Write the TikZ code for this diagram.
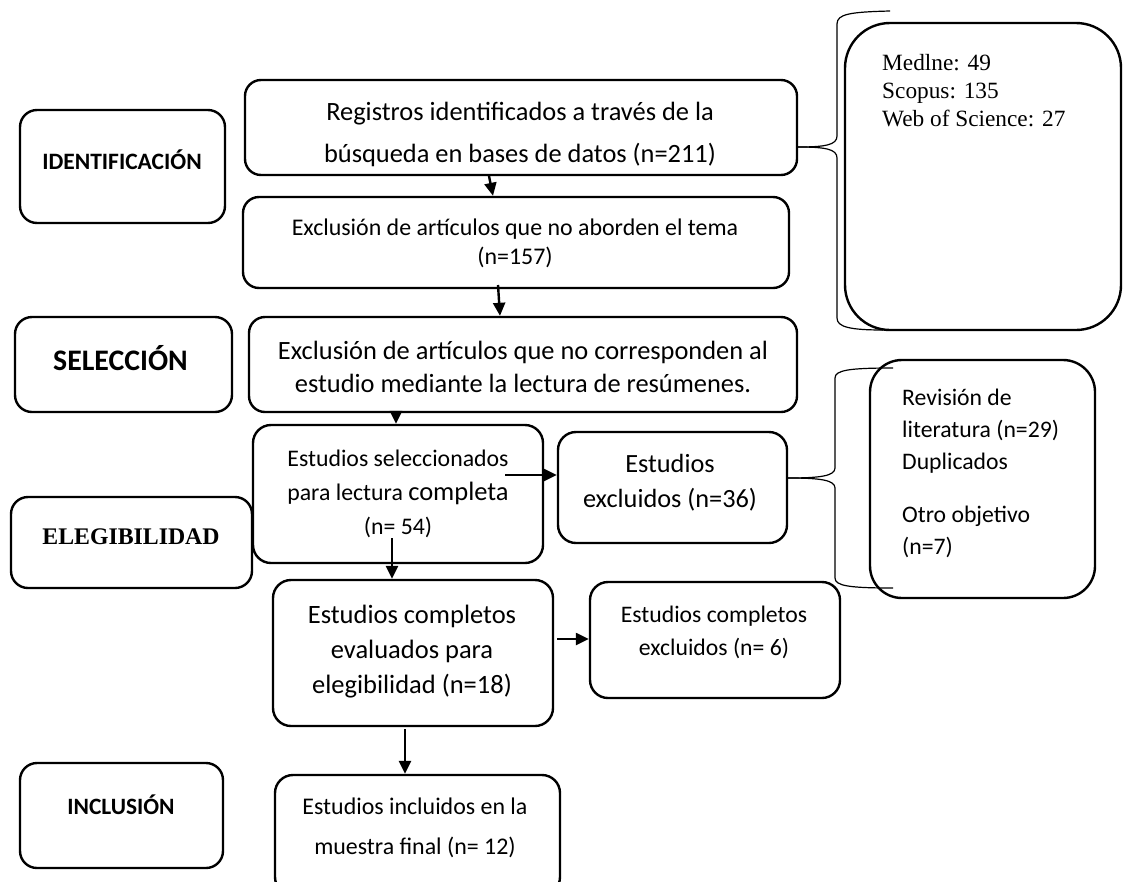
\documentclass[tikz,border=0pt]{standalone}
\usepackage{fontspec}
\setmainfont{Carlito}
\newfontfamily\tnr{Liberation Serif}
\usetikzlibrary{arrows.meta,fit,calc}
\newcommand{\fsz}[2]{\fontsize{#1}{#2}\selectfont}
\begin{document}
\begin{tikzpicture}[x=1pt,y=-1pt,
  box/.style={draw, line width=2.4pt, rounded corners=16pt, inner sep=0pt},
  txt/.style={inner sep=0pt, align=center},
  ltxt/.style={inner sep=0pt, align=left, anchor=west},
  arr/.style={line width=2.4pt, -{Triangle[length=13pt,width=12pt]}},
  brace/.style={line width=1.2pt}]
\useasboundingbox (0,0) rectangle (1123,881);
\clip (0,0) rectangle (1123,881);

% stage labels
\node[box, rounded corners=17pt, fit={(20,110)(225,223)}] (id) {};
\node[txt, font=\fsz{23.5}{28}\bfseries] (idt) at (122,160) {IDENTIFICACIÓN};
\node[box, rounded corners=17pt, fit={(15,317)(232,412)}] (sel) {};
\node[txt, font=\fsz{29.8}{34}\bfseries] (selt) at (120.5,358) {SELECCIÓN};
\node[box, rounded corners=17pt, fit={(11,497)(252,588)}] (ele) {};
\node[txt, font=\fsz{23.8}{28}\tnr\bfseries] (elet) at (131,537) {ELEGIBILIDAD};
\node[box, rounded corners=17pt, fit={(20,763)(223,868)}] (inc) {};
\node[txt, font=\fsz{23.4}{28}\bfseries] (inct) at (121,805) {INCLUSIÓN};

% main flow
\node[box, fit={(245,80)(797,175)}] (b1) {};
\node[txt, font=\fsz{26.4}{42}] (b1t) at (520,134) {Registros identificados a través de la\\búsqueda en bases de datos (n=211)};
\node[box, fit={(243,197)(789,288)}] (b2) {};
\node[txt, font=\fsz{23.9}{29}] (b2t) at (515,243) {Exclusión de artículos que no aborden el tema\\(n=157)};
\node[box, fit={(249,317)(797,412)}] (b3) {};
\node[txt, font=\fsz{26.4}{33}] (b3t) at (523,367) {Exclusión de artículos que no corresponden al\\estudio mediante la lectura de resúmenes.};
\node[box, rounded corners=18pt, fit={(253,425)(543,563)}] (b4) {};
\node[txt, font=\fsz{23.8}{34}] (b4t) at (398,494) {Estudios seleccionados\\para lectura {\fsz{26.5}{34}completa}\\(n= 54)};
\node[box, rounded corners=18pt, fit={(558,432)(787,543)}] (b5) {};
\node[txt, font=\fsz{26.3}{35}] (b5t) at (670,483) {Estudios\\excluidos (n=36)};
\node[box, rounded corners=32pt, fit={(870,360)(1095,598)}] (b6) {};
\node[ltxt, font=\fsz{23.7}{32}] (b6t) at (902,473) {Revisión de\\literatura (n=29)\\Duplicados\\[21pt]Otro objetivo\\(n=7)};
\node[box, rounded corners=45pt, fit={(845,23)(1121,330)}] (med) {};
\node[ltxt, font=\fsz{23.3}{28}\tnr] (medt) at (882,91) {Medlne: 49\\Scopus: 135\\Web of Science: 27};
\node[box, rounded corners=18pt, fit={(273,580)(553,726)}] (b7) {};
\node[txt, font=\fsz{26.5}{35}] (b7t) at (412,652) {Estudios completos\\evaluados para\\elegibilidad (n=18)};
\node[box, rounded corners=18pt, fit={(590,582)(840,698)}] (b8) {};
\node[txt, font=\fsz{23.7}{33}] (b8t) at (714,632) {Estudios completos\\excluidos (n= 6)};
\node[box, rounded corners=18pt, fit={(275,775)(560,895)}] (b9) {};
\node[txt, font=\fsz{23.9}{40}] (b9t) at (415,828) {Estudios incluidos en la\\muestra final (n= 12)};

% connectors
\coordinate (a1s) at (489,176);
\draw[arr] (a1s) -- ($(b2.north)+(-23,0)$);
\coordinate (a2s) at (498,285);
\draw[arr] (a2s) -- ($(b3.north)+(-23,0)$);
\coordinate (a3s) at (396,411);
\draw[arr] (a3s) -- (a3s |- b4.north);
\coordinate (a4s) at (505,475);
\draw[arr] (a4s) -- (a4s -| b5.west);
\coordinate (a5s) at (392,538);
\draw[arr] (a5s) -- (a5s |- b7.north);
\coordinate (a6s) at (557,639);
\draw[arr] (a6s) -- (a6s -| b8.west);
\coordinate (a7s) at (405,729);
\draw[arr] (a7s) -- (a7s |- b9.north);

% braces
\coordinate (br1tip) at (b1.east |- 0,147);
\coordinate (br1top) at (890,11);
\coordinate (br1bot) at (883,330);
\draw[brace] (br1tip) .. controls (825,147) and (837,145) .. (837,136)
  -- (837,24) .. controls (837,14) and (850,12) .. (br1top);
\draw[brace] (br1tip) .. controls (825,147) and (837,149) .. (837,158)
  -- (837,318) .. controls (837,327) and (850,330) .. (br1bot);
\coordinate (br2tip) at (b5.east |- 0,478);
\coordinate (br2top) at (893,368);
\coordinate (br2bot) at (893,588);
\draw[brace] (br2tip) .. controls (820,478) and (835,476) .. (835,468)
  -- (835,378) .. controls (835,370) and (850,368) .. (br2top);
\draw[brace] (br2tip) .. controls (820,478) and (835,480) .. (835,488)
  -- (835,578) .. controls (835,586) and (850,588) .. (br2bot);
\end{tikzpicture}
\end{document}
